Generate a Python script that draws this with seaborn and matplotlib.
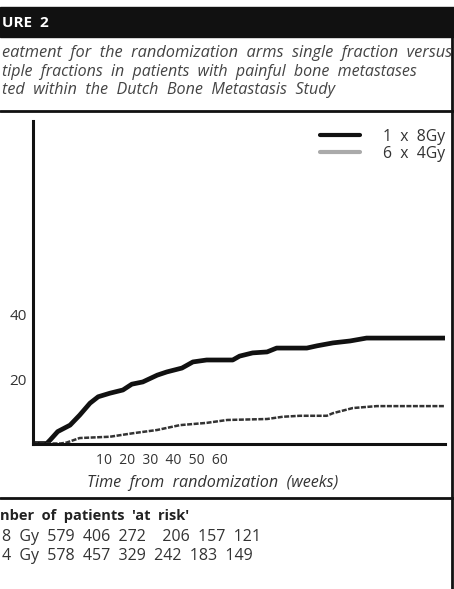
import numpy as np
import pandas as pd
import matplotlib
matplotlib.use("Agg")
import matplotlib.pyplot as plt
from matplotlib.lines import Line2D
import seaborn as sns

# Cumulative incidence (%), time in weeks
weeks_8gy = [0, 2.0, 2.5, 3.6, 5.4, 6.8, 8.3, 9.5, 11.2, 13.1, 14.4, 16.0, 18.1, 19.5,
             21.7, 23.3, 25.3, 29.1, 30.1, 32.0, 34.1, 35.5, 39.9, 41.4, 43.7,
             46.2, 48.6, 60]
pct_8gy = [0, 0, 1.1, 3.7, 5.7, 8.8, 12.5, 14.5, 15.6, 16.6, 18.4, 19.1, 21.2, 22.2,
           23.4, 25.3, 25.9, 25.9, 27.1, 28.1, 28.4, 29.6, 29.6, 30.3, 31.2,
           31.8, 32.7, 32.7]

weeks_4gy = [0, 4.0, 4.9, 6.8, 11.2, 14.6, 18.1, 21.4, 25.3, 28.3, 34.1, 36.4, 38.9,
             42.8, 43.7, 46.6, 50.1, 60]
pct_4gy = [0, 0, 0.3, 1.7, 2.1, 3.2, 4.2, 5.7, 6.4, 7.3, 7.6, 8.3, 8.6,
           8.6, 9.4, 11.0, 11.6, 11.6]

arm_labels = ["1  x  8Gy", "6  x  4Gy"]
x_ticks = [0, 10, 20, 30, 40, 50, 60]
x_tick_text = "10  20  30  40  50  60"
y_ticks = [0, 20, 40, 60, 80, 100]
y_tick_labels = ["", "20", "40", "", "", ""]

at_risk_8gy = [579, 406, 272, 206, 157, 121]
at_risk_4gy = [578, 457, 329, 242, 183, 149]

header = "URE  2"
caption = ["eatment  for  the  randomization  arms  single  fraction  versus",
           "tiple  fractions  in  patients  with  painful  bone  metastases",
           "ted  within  the  Dutch  Bone  Metastasis  Study"]
xlabel = "Time  from  randomization  (weeks)"
risk_title = "nber  of  patients  'at  risk'"

sns.set_style("white")
plt.rcParams["font.family"] = ["Open Sans", "DejaVu Sans"]

df_8 = pd.DataFrame({"week": weeks_8gy, "pct": pct_8gy})
df_4 = pd.DataFrame({"week": weeks_4gy, "pct": pct_4gy})

fig = plt.figure(figsize=(4.54, 5.89), dpi=100)
ax = fig.add_axes([0.0727, 0.247, 0.907, 0.5475])

sns.lineplot(data=df_8, x="week", y="pct", ax=ax, color="#111111",
             linewidth=3.4, estimator=None)
sns.lineplot(data=df_4, x="week", y="pct", ax=ax, color="#333333",
             linewidth=1.8, estimator=None, linestyle=(0, (2.0, 0.6)))

ax.set_xlim(0, 60)
ax.set_ylim(0, 100)
ax.set_xticks(x_ticks)
ax.set_xticklabels([])
ax.set_yticks(y_ticks)
ax.set_yticklabels(y_tick_labels, color="#333333", fontsize=11)
ax.set_xlabel("")
ax.set_ylabel("")
for side in ["top", "right"]:
    ax.spines[side].set_visible(False)
for side in ["left", "bottom"]:
    ax.spines[side].set_linewidth(2.2)
    ax.spines[side].set_color("#111111")
ax.tick_params(axis="both", length=3, width=2, color="#111111",
               direction="inout", pad=3)

handles = [Line2D([], [], color="#111111", lw=3),
           Line2D([], [], color="#aaaaaa", lw=3)]
leg = ax.legend(handles, arm_labels, loc="upper right", frameon=False,
                fontsize=11.3, handlelength=2.5, handletextpad=1.5,
                labelspacing=0.05, borderaxespad=0.1,
                bbox_to_anchor=(1.02, 1.0))
for t in leg.get_texts():
    t.set_color("#333333")

# header bar and frame lines
fig.patches.append(plt.Rectangle((0, 0.937), 1, 0.051, transform=fig.transFigure,
                                 color="#111111", zorder=0))
fig.text(0.004, 0.9615, header, color="white", fontsize=11, fontweight="bold",
         va="center", ha="left")
fig.add_artist(Line2D([0, 1], [0.8115, 0.8115], color="#111111", lw=2))
fig.add_artist(Line2D([0, 1], [0.155, 0.155], color="#111111", lw=2))
fig.add_artist(Line2D([0.9945, 0.9945], [0, 0.937], color="#111111", lw=2))

cap_y = [1 - 53 / 589, 1 - 72 / 589, 1 - 90 / 589]
cap_size = [11.8, 11.5, 11.6]
for y, line, fs in zip(cap_y, caption, cap_size):
    fig.text(0.004, y, line, color="#444444", fontsize=fs, style="italic",
             va="center", ha="left")

fig.text(0.357, 1 - 461 / 589, x_tick_text, color="#333333", fontsize=10,
         va="center", ha="center")
fig.text(0.468, 1 - 483 / 589, xlabel, color="#333333", fontsize=11.6,
         style="italic", va="center", ha="center")

fig.text(0.0, 1 - 516 / 589, risk_title, color="#222222", fontsize=10.5,
         fontweight="bold", va="center", ha="left")
row_8 = "8  Gy  " + "  ".join(str(v) for v in at_risk_8gy[:3]) + "    " + \
        "  ".join(str(v) for v in at_risk_8gy[3:])
row_4 = "4  Gy  " + "  ".join(str(v) for v in at_risk_4gy)
fig.text(0.004, 1 - 537 / 589, row_8, color="#333333", fontsize=11.5,
         va="center", ha="left")
fig.text(0.004, 1 - 556 / 589, row_4, color="#333333", fontsize=11.5,
         va="center", ha="left")

fig.savefig("out.png", dpi=100)
